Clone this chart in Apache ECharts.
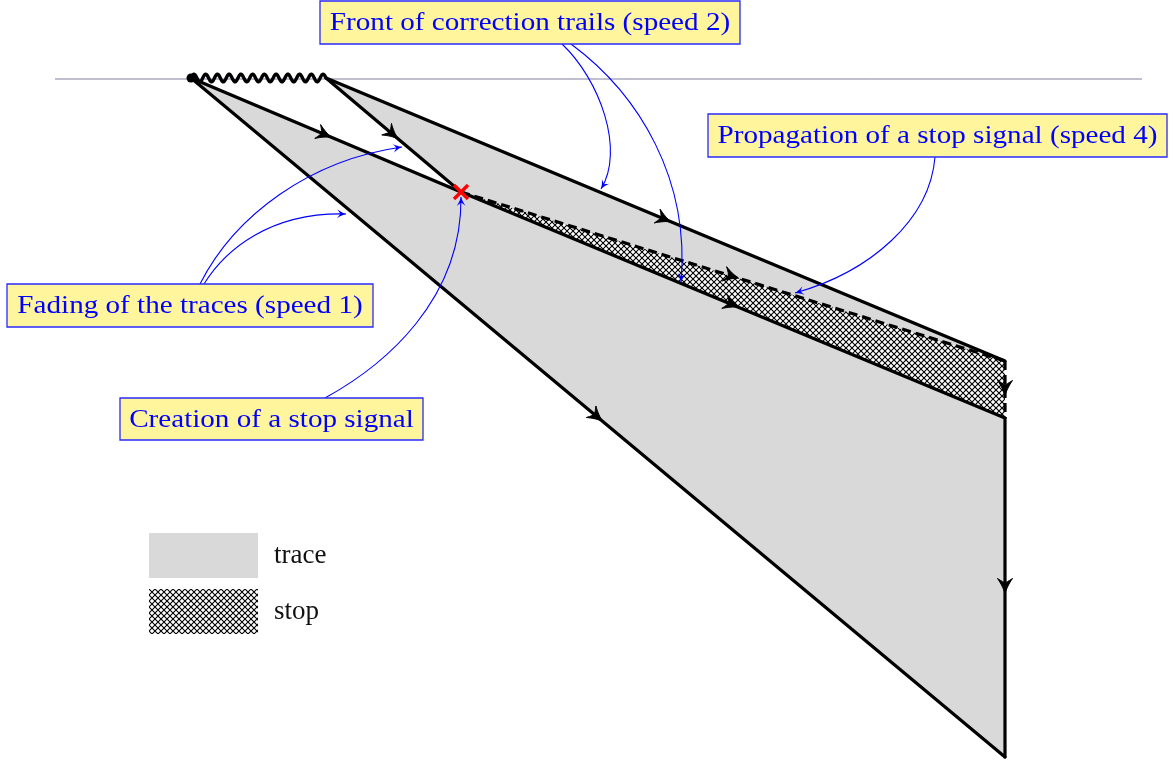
<!DOCTYPE html>
<html><head><meta charset="utf-8">
<script src="https://cdn.jsdelivr.net/npm/echarts@6.0.0/dist/echarts.min.js"></script>
<style>html,body{margin:0;padding:0;background:#fff}#chart{width:1173px;height:765px}</style>
</head><body><div id="chart"></div>
<script>
// ---- diagram data (coordinates in the diagram's own space) ----
const traceRegion = [[191,78],[461,192],[326,78],[1005,361],[1005,757]];
const stopRegion  = [[461,192],[1005,361],[1005,418]];
const solidEdges  = [[191,78,1005,757],[191,78,461,192],[326,78,461,192],[326,78,1005,361],[461,192,1005,418],[1005,418,1005,757]];
const dashedEdges = [[461,192,1005,361],[1005,361,1005,418]];
const waveEdge    = [[191,78,326,78]];
const stopCreation = [[461,192]];
const baseline    = [[55,79,1142,79]];
const legendNames = ['trace','stop'];
const annotationTexts = ['Front of correction trails (speed 2)','Propagation of a stop signal (speed 4)','Fading of the traces (speed 1)','Creation of a stop signal'];

// ---- annotation layout ----
const annotationBoxes = [[320,1,420,43],[708,114,459,43],[7,284,366,43],[120,398,303,42]];
const annotationLinks = [
  [[[562,44],[600,80],[625,150],[601,189]], [[571,44],[640,95],[690,180],[681,282]]],
  [[[935,157],[930,220],[870,272],[795,293]]],
  [[[200,284],[235,215],[310,160],[402,147]], [[204,284],[225,250],[270,212],[346,214]]],
  [[[325,398],[385,365],[462,300],[461,197]]]
];

const FONT = '26px "Liberation Serif", serif';
const BLUE = '#0000ff';

// crosshatch pattern
const HS = 6;
const hatch = document.createElement('canvas');
hatch.width = HS; hatch.height = HS;
(function(){
  const c = hatch.getContext('2d');
  c.fillStyle = '#fff'; c.fillRect(0,0,HS,HS);
  c.strokeStyle = '#000'; c.lineWidth = 1.1;
  c.beginPath();
  c.moveTo(-1,-1); c.lineTo(HS+1,HS+1);
  c.moveTo(HS+1,-1); c.lineTo(-1,HS+1);
  c.stroke();
})();
const hatchFill = {image: hatch, repeat: 'repeat'};

function quadPts(a, c, b, n){
  const out = [];
  for (let i = 0; i <= n; i++){
    const t = i/n, u = 1-t;
    out.push([u*u*a[0]+2*u*t*c[0]+t*t*b[0], u*u*a[1]+2*u*t*c[1]+t*t*b[1]]);
  }
  return out;
}
// filled stealth-like arrow head, tip at 'tip', pointing along angle 'ang'
function headPoints(tip, ang, len, hw, notch){
  const cs = Math.cos(ang), sn = Math.sin(ang);
  const tr = p => [tip[0] + p[0]*cs - p[1]*sn, tip[1] + p[0]*sn + p[1]*cs];
  let pts = [];
  pts = pts.concat(quadPts([0,0],[-len*0.5,-hw*0.3],[-len,-hw],8));
  pts = pts.concat(quadPts([-len,-hw],[-len*notch,-hw*0.15],[-len*notch,0],4));
  pts = pts.concat(quadPts([-len*notch,0],[-len*notch,hw*0.15],[-len,hw],4));
  pts = pts.concat(quadPts([-len,hw],[-len*0.5,hw*0.3],[0,0],8));
  return pts.map(tr);
}

function edgeRender(dashed){
  return function(params, api){
    const p1 = api.coord([api.value(0), api.value(1)]);
    const p2 = api.coord([api.value(2), api.value(3)]);
    const ang = Math.atan2(p2[1]-p1[1], p2[0]-p1[0]);
    const tip = [(p1[0]+p2[0])/2 + 6*Math.cos(ang), (p1[1]+p2[1])/2 + 6*Math.sin(ang)];
    return {type:'group', children:[
      {type:'line', shape:{x1:p1[0],y1:p1[1],x2:p2[0],y2:p2[1]},
       style:{stroke:'#000', lineWidth:3.2, lineCap: dashed ? 'butt' : 'round', lineDash: dashed ? [9,5] : null}},
      {type:'polygon', shape:{points: headPoints(tip, ang, 15, 7.5, 0.72)}, style:{fill:'#000', stroke:'#000', lineWidth:1, lineJoin:'round'}}
    ]};
  };
}

function polygonRender(region, fill){
  return function(params, api){
    if (params.dataIndex !== 0) return;
    return {type:'polygon', shape:{points: region.map(p => api.coord(p))}, style:{fill: fill}};
  };
}

const option = {
  animation: false,
  backgroundColor: '#fff',
  grid: {left:0, right:0, top:0, bottom:0},
  xAxis: {type:'value', min:0, max:1173, show:false},
  yAxis: {type:'value', min:0, max:765, inverse:true, show:false},
  legend: {
    data: legendNames, orient:'vertical', left:149, top:533, icon:'rect', padding:0,
    itemWidth:109, itemHeight:45, itemGap:11, selectedMode:false,
    textStyle:{fontFamily:'"Liberation Serif", serif', fontSize:27, color:'#111', padding:[0,0,0,11]}
  },
  series: [
    {name:'trace', type:'custom', data: traceRegion, itemStyle:{color:'#d9d9d9'},
     renderItem: polygonRender(traceRegion, '#d9d9d9'), z:1},
    {name:'stop', type:'custom', data: stopRegion, itemStyle:{color: hatchFill},
     renderItem: polygonRender(stopRegion, hatchFill), z:2},
    {name:'baseline', type:'custom', data: baseline, z:3,
     renderItem: function(params, api){
       const p1 = api.coord([api.value(0), api.value(1)]);
       const p2 = api.coord([api.value(2), api.value(3)]);
       return {type:'line', shape:{x1:p1[0],y1:p1[1],x2:p2[0],y2:p2[1]}, style:{stroke:'#7f7f9f', lineWidth:1}};
     }},
    {name:'edges', type:'custom', data: solidEdges, renderItem: edgeRender(false), z:4},
    {name:'dashed', type:'custom', data: dashedEdges, renderItem: edgeRender(true), z:4},
    {name:'wave', type:'custom', data: waveEdge, z:5,
     renderItem: function(params, api){
       const p1 = api.coord([api.value(0), api.value(1)]);
       const p2 = api.coord([api.value(2), api.value(3)]);
       const L = p2[0]-p1[0], periods = 11.5, amp = 3.8, pts = [];
       for (let i = 0; i <= 300; i++){
         const t = i/300;
         pts.push([p1[0] + L*t, p1[1] - amp*Math.sin(2*Math.PI*periods*t)]);
       }
       return {type:'group', children:[
         {type:'polyline', shape:{points:pts}, style:{stroke:'#000', lineWidth:3.4, fill:null, lineJoin:'round'}},
         {type:'circle', shape:{cx:p1[0], cy:p1[1], r:4.5}, style:{fill:'#000'}}
       ]};
     }},
    {name:'creation', type:'custom', data: stopCreation, z:6,
     renderItem: function(params, api){
       const c = api.coord([api.value(0), api.value(1)]), d = 7;
       const st = {stroke:'#ff0000', lineWidth:3.4};
       return {type:'group', children:[
         {type:'line', shape:{x1:c[0]-d,y1:c[1]-d,x2:c[0]+d,y2:c[1]+d}, style:st},
         {type:'line', shape:{x1:c[0]-d,y1:c[1]+d,x2:c[0]+d,y2:c[1]-d}, style:st}
       ]};
     }},
    {name:'annotations', type:'custom', data: annotationTexts.map((t,i)=>i), z:7,
     renderItem: function(params, api){
       const i = params.dataIndex, b = annotationBoxes[i];
       const tl = api.coord([b[0], b[1]]), br = api.coord([b[0]+b[2], b[1]+b[3]]);
       const children = [];
       annotationLinks[i].forEach(function(l){
         const q = l.map(p => api.coord(p));
         children.push({type:'bezierCurve', shape:{x1:q[0][0],y1:q[0][1],cpx1:q[1][0],cpy1:q[1][1],cpx2:q[2][0],cpy2:q[2][1],x2:q[3][0],y2:q[3][1]},
           style:{stroke:BLUE, lineWidth:1.1, fill:null}});
         const ang = Math.atan2(q[3][1]-q[2][1], q[3][0]-q[2][0]);
         children.push({type:'polygon', shape:{points: headPoints(q[3], ang, 9, 4.5, 0.65)}, style:{fill:BLUE}});
       });
       children.push({type:'rect', shape:{x:tl[0], y:tl[1], width:br[0]-tl[0], height:br[1]-tl[1]},
         style:{fill:'#fff59d', stroke:'#2a2aff', lineWidth:1.3}});
       const cx = (tl[0]+br[0])/2, cy = (tl[1]+br[1])/2 + 1;
       children.push({type:'text', x:cx, y:cy, scaleX:1.12, originX:0, originY:0,
         style:{text: annotationTexts[i], x:0, y:0, fill:BLUE, font:FONT, align:'center', verticalAlign:'middle'}});
       return {type:'group', children: children};
     }}
  ]
};
const chart = echarts.init(document.getElementById('chart'), null, {renderer:'canvas'});
chart.setOption(option);
</script></body></html>
